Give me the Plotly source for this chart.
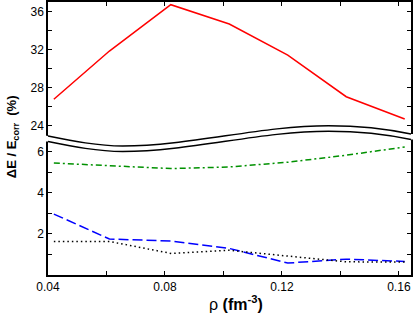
import plotly.graph_objects as go

# ---- data ----
rho = [0.042, 0.061, 0.082, 0.102, 0.122, 0.142, 0.162]
red_vals = [26.78, 31.86, 36.74, 34.70, 31.44, 27.05, 24.70]
green_vals = [5.44, 5.30, 5.17, 5.25, 5.48, 5.82, 6.22]
blue_vals = [2.96, 1.75, 1.65, 1.29, 0.58, 0.77, 0.66]
dot_vals = [1.63, 1.63, 1.05, 1.20, 0.92, 0.64, 0.63]

x_ticks = [0.04, 0.06, 0.08, 0.10, 0.12, 0.14, 0.16]
x_labels = ["0.04", "", "0.08", "", "0.12", "", "0.16"]
yu_ticks = [24, 26, 28, 30, 32, 34, 36]
yu_labels = ["24", "", "28", "", "32", "", "36"]
yl_ticks = [1, 2, 3, 4, 5, 6]
yl_labels = ["", "2", "", "4", "", "6"]

W, H = 415, 316
L, R, T, B = 48, 2, 2, 41
PW, PH = W - L - R, H - T - B


def px(x):
    return (x - L) / PW


def py(y):
    return (H - B - y) / PH


font = dict(family="Liberation Sans, Arial, sans-serif", size=12, color="black")

fig = go.Figure()
fig.add_trace(go.Scatter(x=rho, y=red_vals, xaxis="x2", yaxis="y2", mode="lines",
                         line=dict(color="#ff0000", width=1.5)))
fig.add_trace(go.Scatter(x=rho, y=green_vals, mode="lines",
                         line=dict(color="rgb(0,145,0)", width=1.5, dash="6px,3px,2px,3px")))
fig.add_trace(go.Scatter(x=rho, y=blue_vals, mode="lines",
                         line=dict(color="#0000ff", width=1.5, dash="10px,4px")))
fig.add_trace(go.Scatter(x=rho, y=dot_vals, mode="lines",
                         line=dict(color="black", width=1.5, dash="1.5px,3px")))

axcommon = dict(showgrid=False, zeroline=False, showline=True, linecolor="black", linewidth=1.5,
                ticks="inside", ticklen=4, tickwidth=1, tickcolor="black", tickfont=font)

xr = [0.04, 0.04 + PW / 117.6 * 0.04]
fig.update_layout(
    width=W, height=H, margin=dict(l=L, r=R, t=T, b=B),
    paper_bgcolor="white", plot_bgcolor="white", showlegend=False,
    xaxis=dict(axcommon, range=xr, tickmode="array", tickvals=x_ticks, ticktext=x_labels,
               anchor="y", mirror=False),
    xaxis2=dict(axcommon, range=xr, tickmode="array", tickvals=x_ticks, ticktext=x_labels,
                anchor="y2", side="top", showticklabels=False, matches="x", mirror=False),
    yaxis=dict(axcommon, domain=[0, py(138)], range=[0, (H - B - 138) / 20.58],
               tickmode="array", tickvals=yl_ticks, ticktext=yl_labels, anchor="x", mirror="allticks"),
    yaxis2=dict(axcommon, domain=[py(140), 1], range=[36 - (140 - 11.7) / 9.5, 36 + (11.7 - 2) / 9.5],
                tickmode="array", tickvals=yu_ticks, ticktext=yu_labels, anchor="x2", mirror="allticks"),
)

# ---- axis break decoration (wavy band) ----
up = [(48, 136), (73, 141), (98, 146), (123, 146), (192, 146), (261, 125.7), (330, 125.7),
      (357, 125.7), (385, 128), (413, 134)]
gap = 5.5
lo = [(x, y + gap) for x, y in up]


def pt(p):
    return f"{px(p[0]):.5f},{py(p[1]):.5f}"


def bez_segments(pts):
    s = ""
    for i in range(1, len(pts), 3):
        s += f" C {pt(pts[i])} {pt(pts[i + 1])} {pt(pts[i + 2])}"
    return s


lo_rev = lo[::-1]
fill = (f"M {pt((45, up[0][1] - 0.5))} L {pt(up[0])}" + bez_segments(up)
        + f" L {pt((416, up[-1][1]))} L {pt((416, lo[-1][1]))} L {pt(lo_rev[0])}"
        + bez_segments(lo_rev)
        + f" L {pt((45, lo[0][1]))} Z")

fig.add_shape(type="path", path=fill, xref="paper", yref="paper",
              fillcolor="white", line=dict(width=0), layer="above")
for pts in (up, lo):
    fig.add_shape(type="path", path=f"M {pt(pts[0])}" + bez_segments(pts), xref="paper", yref="paper",
                  line=dict(color="black", width=1.5), layer="above")

# ---- axis titles ----
fig.add_annotation(text="<b>ΔE / E<sub>corr</sub>  (%)</b>", xref="paper", yref="paper",
                   x=px(12), y=py(137), textangle=-90, showarrow=False,
                   xanchor="center", yanchor="middle",
                   font=dict(family="Liberation Sans, Arial, sans-serif", size=13, color="black"))
fig.add_annotation(text="ρ <b>(fm<sup>-3</sup>)</b>", xref="paper", yref="paper",
                   x=px(237), y=py(303), showarrow=False, xanchor="center", yanchor="middle",
                   font=dict(family="Liberation Sans, Arial, sans-serif", size=16, color="black"))

fig.write_html("out.html", config={"displayModeBar": False},
               post_script="document.body.style.margin='0';document.body.style.padding='0';")
